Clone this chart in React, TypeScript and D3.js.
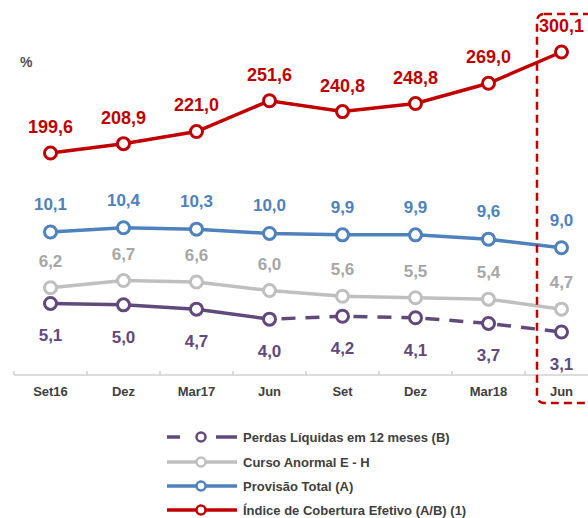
import React, { useEffect, useRef } from 'react'
import * as d3 from 'd3'

const categories = ['Set16', 'Dez', 'Mar17', 'Jun', 'Set', 'Dez ', 'Mar18', 'Jun ']
const categoryLabels = ['Set16', 'Dez', 'Mar17', 'Jun', 'Set', 'Dez', 'Mar18', 'Jun']

const cobertura = [199.6, 208.9, 221.0, 251.6, 240.8, 248.8, 269.0, 300.1]
const provisao = [10.1, 10.4, 10.3, 10.0, 9.9, 9.9, 9.6, 9.0]
const anormal = [6.2, 6.7, 6.6, 6.0, 5.6, 5.5, 5.4, 4.7]
const perdas = [5.1, 5.0, 4.7, 4.0, 4.2, 4.1, 3.7, 3.1]

const legendLabels = [
  'Perdas Líquidas em 12 meses (B)',
  'Curso Anormal E - H',
  'Provisão Total (A)',
  'Índice de Cobertura Efetivo (A/B) (1)',
]

const RED = '#C00000'
const BLUE = '#4F81BD'
const GRAY = '#BFBFBF'
const GRAY_TXT = '#A6A6A6'
const PURPLE = '#604A7B'
const FONT = 'Arial, "Liberation Sans", sans-serif'

const fmt = (v: number) => v.toFixed(1).replace('.', ',')

export default function App() {
  const ref = useRef<SVGSVGElement>(null)

  useEffect(() => {
    const svg = d3.select(ref.current)
    svg.selectAll('*').remove()

    const x = d3.scaleBand().domain(categories).range([14, 598])
    const cx = (i: number) => x(categories[i])! + x.bandwidth() / 2

    // two bands: the coverage index on top, the % series below
    const yTop = d3.scaleLinear().domain([199.6, 300.1]).range([153, 52])
    const yLow = d3.scaleLinear().domain([3.1, 10.1]).range([332, 232])

    // axis
    const axis = svg.append('g').attr('transform', 'translate(0,375)')
    axis.append('line').attr('x1', 14).attr('x2', 588).attr('stroke', '#D0D0D0').attr('stroke-width', 1.5)
    categories.forEach((c) => {
      axis.append('line')
        .attr('x1', x(c)!).attr('x2', x(c)!)
        .attr('y1', 0).attr('y2', -4)
        .attr('stroke', '#D0D0D0').attr('stroke-width', 1.5)
    })
    axis.selectAll('.cat')
      .data(categoryLabels)
      .enter()
      .append('text')
      .attr('x', (d, i) => cx(i))
      .attr('y', 21)
      .attr('text-anchor', 'middle')
      .attr('font-family', FONT)
      .attr('font-weight', 'bold')
      .attr('font-size', 13)
      .attr('fill', '#404040')
      .text((d) => d)

    svg.append('text')
      .attr('x', 20).attr('y', 67)
      .attr('font-family', FONT).attr('font-weight', 'bold').attr('font-size', 14)
      .attr('fill', '#505050')
      .text('%')

    const drawSeries = (
      values: number[],
      y: d3.ScaleLinear<number, number>,
      color: string,
      txtColor: string,
      labelDy: number,
      fontSize: number,
      dashFrom: number,
    ) => {
      const g = svg.append('g')
      const solid = values.map((v, i) => (i <= dashFrom ? v : NaN))
      g.append('path')
        .attr('d', d3.line<number>().defined((d) => !isNaN(d)).x((d, i) => cx(i)).y((d) => y(d))(solid)!)
        .attr('fill', 'none').attr('stroke', color).attr('stroke-width', 3.5)
      if (dashFrom < values.length - 1) {
        // dashed continuation after the break
        g.append('path')
          .attr('d', d3.line<number>().x((d, i) => cx(i + dashFrom)).y((d) => y(d))(values.slice(dashFrom))!)
          .attr('fill', 'none').attr('stroke', color).attr('stroke-width', 3.5)
          .attr('stroke-dasharray', '14 10').attr('stroke-dashoffset', -12)
      }
      g.selectAll('circle')
        .data(values)
        .enter()
        .append('circle')
        .attr('cx', (d, i) => cx(i))
        .attr('cy', (d) => y(d))
        .attr('r', 6)
        .attr('fill', 'white')
        .attr('stroke', color)
        .attr('stroke-width', 3)
      g.selectAll('.lbl')
        .data(values)
        .enter()
        .append('text')
        .attr('x', (d, i) => cx(i))
        .attr('y', (d) => y(d) + labelDy)
        .attr('text-anchor', 'middle')
        .attr('font-family', FONT)
        .attr('font-weight', 'bold')
        .attr('font-size', fontSize)
        .attr('fill', txtColor)
        .text((d) => fmt(d))
    }

    drawSeries(anormal, yLow, GRAY, GRAY_TXT, -21, 17, 99)
    drawSeries(provisao, yLow, BLUE, BLUE, -22, 17, 99)
    drawSeries(perdas, yLow, PURPLE, PURPLE, 38, 17, 3)
    drawSeries(cobertura, yTop, RED, RED, -20, 18, 99)

    // highlight box around the last period
    svg.append('rect')
      .attr('x', 537).attr('y', 14)
      .attr('width', 70).attr('height', 389)
      .attr('rx', 7)
      .attr('fill', 'none')
      .attr('stroke', RED).attr('stroke-width', 2.5)
      .attr('stroke-dasharray', '8 5')

    // legend
    const legendColors = [PURPLE, GRAY, BLUE, RED]
    const rowY = [437, 462, 486, 510]
    legendLabels.forEach((lab, i) => {
      const g = svg.append('g').attr('transform', `translate(0,${rowY[i]})`)
      const ln = g.append('line').attr('x1', 167).attr('x2', 237)
        .attr('stroke', legendColors[i]).attr('stroke-width', 3.5)
      if (i === 0) ln.attr('stroke-dasharray', '13 8 0 0 0 28 13 0')
      g.append('circle').attr('cx', 201).attr('cy', 0).attr('r', 4.5)
        .attr('fill', 'white').attr('stroke', legendColors[i]).attr('stroke-width', 2.5)
      g.append('text')
        .attr('x', 243).attr('y', 5)
        .attr('font-family', FONT).attr('font-weight', 'bold').attr('font-size', 13)
        .attr('fill', '#404040')
        .text(lab)
    })
  }, [])

  return <svg ref={ref} width={588} height={518} style={{ display: 'block', position: 'absolute', left: 0, top: 0 }} />
}
